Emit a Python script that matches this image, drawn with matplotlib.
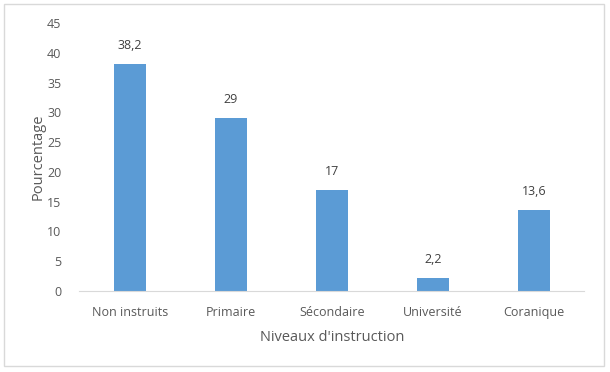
import matplotlib.pyplot as plt
import matplotlib.patches as mpatches

categories = ["Non instruits", "Primaire", "Sécondaire", "Université", "Coranique"]
values = [38.2, 29, 17, 2.2, 13.6]
value_labels = ["38,2", "29", "17", "2,2", "13,6"]

plt.rcParams['font.family'] = ['Open Sans', 'DejaVu Sans']
txt = '#595959'

fig = plt.figure(figsize=(6.1, 3.72), dpi=100)
ax = fig.add_axes([0.130, 0.218, 0.828, 0.720])

x = range(len(categories))
bars = ax.bar(x, values, width=0.32, color='#5B9BD5')
for b, lab in zip(bars, value_labels):
    ax.text(b.get_x() + b.get_width() / 2, b.get_height() + 2.0, lab,
            ha='center', va='bottom', fontsize=9, color='#404040')

ax.set_xlim(-0.5, len(categories) - 0.5)
ax.set_ylim(0, 45)
ax.set_yticks(range(0, 46, 5))
ax.set_xticks(list(x))
ax.set_xticklabels(categories)
ax.tick_params(length=0, labelsize=9, colors=txt)
ax.tick_params(axis='x', pad=11)
ax.tick_params(axis='y', pad=13)
for s in ['top', 'right', 'left']:
    ax.spines[s].set_visible(False)
ax.spines['bottom'].set_color('#D9D9D9')

ax.set_ylabel("Pourcentage", fontsize=10.5, color=txt, labelpad=1)
ax.set_xlabel("Niveaux d'instruction", fontsize=10.5, color=txt, labelpad=8)

fig.patches.append(mpatches.Rectangle((4 / 610, 6 / 372), 600 / 610, 362 / 372,
                                      transform=fig.transFigure, fill=False,
                                      edgecolor='#D9D9D9', lw=1))

fig.savefig('out.png', dpi=100)
